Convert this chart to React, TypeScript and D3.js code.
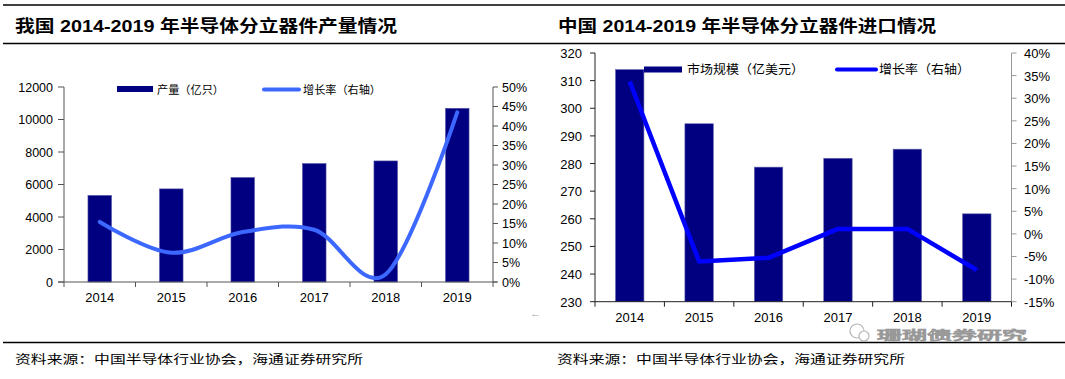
import React from "react";
import * as d3 from "d3";

const years = ["2014", "2015", "2016", "2017", "2018", "2019"];
const output = [5330, 5730, 6430, 7290, 7450, 10690];
const outputGrowth = [0.154, 0.075, 0.128, 0.134, 0.02, 0.435];
const imports = [314.0, 294.4, 278.7, 281.9, 285.2, 261.8];
const importGrowth = [0.337, -0.061, -0.053, 0.011, 0.011, -0.08];
const leftTicksL = [0, 2000, 4000, 6000, 8000, 10000, 12000];
const rightTicksL = [0, 0.05, 0.1, 0.15, 0.2, 0.25, 0.3, 0.35, 0.4, 0.45, 0.5];
const leftTicksR = [230, 240, 250, 260, 270, 280, 290, 300, 310, 320];
const rightTicksR = [-0.15, -0.1, -0.05, 0, 0.05, 0.1, 0.15, 0.2, 0.25, 0.3, 0.35, 0.4];

const titleL = "我国 2014-2019 年半导体分立器件产量情况";
const titleR = "中国 2014-2019 年半导体分立器件进口情况";
const source = "资料来源：中国半导体行业协会，海通证券研究所";
const legendL = ["产量（亿只）", "增长率（右轴）"];
const legendR = ["市场规模（亿美元）", "增长率（右轴）"];

const NUM = "'Liberation Sans', Arial, sans-serif";
const CJK = "'Noto Sans CJK SC', sans-serif";
const NAVY = "#000080";

function pct(v: number) {
  return `${Math.round(v * 100)}%`;
}

function LeftChart() {
  const x0 = 64, x1 = 493, yT = 87, yB = 282;
  const x = d3.scaleBand<string>().domain(years).range([x0, x1]);
  const yL = d3.scaleLinear().domain([0, 12000]).range([yB, yT]);
  const yR = d3.scaleLinear().domain([0, 0.5]).range([yB, yT]);
  const bw = x.bandwidth() * 0.33;
  const line = d3
    .line<number>()
    .x((_, i) => (x(years[i]) as number) + x.bandwidth() / 2)
    .y((d) => yR(d))
    .curve(d3.curveCatmullRom.alpha(0));
  const axisC = "#555";
  const bounds = years.map((y) => x(y) as number).concat([x1]);
  return (
    <g>
      {output.map((v, i) => (
        <rect
          key={i}
          x={(x(years[i]) as number) + (x.bandwidth() - bw) / 2}
          y={yL(v)}
          width={bw}
          height={yB - yL(v)}
          fill={NAVY}
          stroke="#5a5aa8"
          strokeWidth={0.6}
        />
      ))}
      <path d={line(outputGrowth) || ""} fill="none" stroke="#3d68ff" strokeWidth={4} strokeLinecap="round" />
      <line x1={x0} x2={x0} y1={yT} y2={yB} stroke={axisC} />
      <line x1={x1} x2={x1} y1={yT} y2={yB} stroke={axisC} />
      <line x1={x0 - 6} x2={x1 + 4} y1={yB} y2={yB} stroke={axisC} />
      {leftTicksL.map((t) => (
        <g key={t}>
          <line x1={x0 - 6} x2={x0} y1={yL(t)} y2={yL(t)} stroke={axisC} />
          <text x={53} y={yL(t) + 4.5} textAnchor="end" fontFamily={NUM} fontSize={12.5} fill="#000">
            {t}
          </text>
        </g>
      ))}
      {rightTicksL.map((t) => (
        <g key={t}>
          <line x1={x1} x2={x1 + 5} y1={yR(t)} y2={yR(t)} stroke={axisC} />
          <text x={502} y={yR(t) + 4.5} fontFamily={NUM} fontSize={12.5} fill="#000">
            {pct(t)}
          </text>
        </g>
      ))}
      {bounds.map((b, i) => (
        <line key={i} x1={b} x2={b} y1={yB} y2={yB + 5} stroke={axisC} />
      ))}
      {years.map((yv) => (
        <text
          key={yv}
          x={(x(yv) as number) + x.bandwidth() / 2}
          y={301.5}
          textAnchor="middle"
          fontFamily={NUM}
          fontSize={13}
          fill="#000"
        >
          {yv}
        </text>
      ))}
      <rect x={117} y={86} width={36} height={6} fill={NAVY} />
      <text x={157} y={93.5} fontFamily={CJK} fontSize={11} textLength={67} lengthAdjust="spacingAndGlyphs">
        {legendL[0]}
      </text>
      <line x1={264} x2={299} y1={89.5} y2={89.5} stroke="#3d68ff" strokeWidth={4} strokeLinecap="round" />
      <text x={303} y={93.5} fontFamily={CJK} fontSize={11} textLength={78} lengthAdjust="spacingAndGlyphs">
        {legendL[1]}
      </text>
    </g>
  );
}

function RightChart() {
  const x0 = 595, x1 = 1011.5, yT = 53, yB = 301.7;
  const x = d3.scaleBand<string>().domain(years).range([x0, x1]);
  const yL = d3.scaleLinear().domain([230, 320]).range([yB, yT]);
  const yR = d3.scaleLinear().domain([-0.15, 0.4]).range([yB, yT]);
  const bw = x.bandwidth() * 0.41;
  const line = d3
    .line<number>()
    .x((_, i) => (x(years[i]) as number) + x.bandwidth() / 2)
    .y((d) => yR(d));
  const bounds = years.map((y) => x(y) as number).concat([x1]);
  return (
    <g>
      {imports.map((v, i) => (
        <rect
          key={i}
          x={(x(years[i]) as number) + (x.bandwidth() - bw) / 2}
          y={yL(v)}
          width={bw}
          height={yB - yL(v)}
          fill={NAVY}
          stroke="#6a6ab0"
          strokeWidth={0.6}
        />
      ))}
      <path d={line(importGrowth) || ""} fill="none" stroke="#0000ff" strokeWidth={4.5} strokeLinejoin="round" />
      <line x1={x0} x2={x0} y1={yT} y2={yB} stroke="#222" />
      <line x1={x1} x2={x1} y1={yT} y2={yB} stroke="#999" />
      <line x1={x0} x2={x1} y1={yB} y2={yB} stroke="#222" />
      {leftTicksR.map((t) => (
        <g key={t}>
          <line x1={x0 - 5} x2={x0} y1={yL(t)} y2={yL(t)} stroke="#222" />
          <text x={582} y={yL(t) + 5} textAnchor="end" fontFamily={NUM} fontSize={13} fill="#000">
            {t}
          </text>
        </g>
      ))}
      {rightTicksR.map((t, i) => (
        <g key={i}>
          <line x1={x1} x2={x1 + 5} y1={yR(t)} y2={yR(t)} stroke="#999" />
          <text x={1024} y={yR(t) + 5} fontFamily={NUM} fontSize={13} fill="#000">
            {pct(t)}
          </text>
        </g>
      ))}
      {bounds.map((b, i) => (
        <line key={i} x1={b} x2={b} y1={yB} y2={yB + 5} stroke="#222" />
      ))}
      {years.map((yv) => (
        <text
          key={yv}
          x={(x(yv) as number) + x.bandwidth() / 2}
          y={322}
          textAnchor="middle"
          fontFamily={NUM}
          fontSize={13}
          fill="#000"
        >
          {yv}
        </text>
      ))}
      <rect x={644} y={66.5} width={38} height={6} fill={NAVY} />
      <text x={687} y={74} fontFamily={CJK} fontSize={12.5} textLength={117} lengthAdjust="spacingAndGlyphs">
        {legendR[0]}
      </text>
      <line x1={837} x2={876} y1={69.5} y2={69.5} stroke="#0000ff" strokeWidth={4} strokeLinecap="round" />
      <text x={879} y={74} fontFamily={CJK} fontSize={12.5} textLength={91} lengthAdjust="spacingAndGlyphs">
        {legendR[1]}
      </text>
      <g opacity={0.85}>
        <circle cx={857} cy={331} r={7} fill="none" stroke="#aaa" strokeWidth={1.2} />
        <circle cx={864} cy={336} r={5} fill="#fff" stroke="#aaa" strokeWidth={1.2} />
        <text x={877} y={339.5} fontFamily={CJK} fontSize={12} fill="#fff" stroke="#888" strokeWidth={0.9} textLength={150} lengthAdjust="spacingAndGlyphs">
          珊瑚债券研究
        </text>
      </g>
    </g>
  );
}

export default function App() {
  return (
    <svg
      width={1065}
      height={379}
      style={{ position: "absolute", left: 0, top: 0, background: "#fff" }}
    >
      <rect x={0} y={0} width={1065} height={379} fill="#fff" />
      <line x1={3} x2={1065} y1={5} y2={5} stroke="#000" strokeWidth={1.3} />
      <line x1={3} x2={1065} y1={43.5} y2={43.5} stroke="#000" strokeWidth={1.3} />
      <line x1={3} x2={1065} y1={342.5} y2={342.5} stroke="#000" strokeWidth={1.3} />
      <text x={15} y={32} fontFamily={`${NUM}, ${CJK}`} fontWeight="bold" fontSize={16.5} textLength={382} lengthAdjust="spacingAndGlyphs">
        {titleL}
      </text>
      <text x={558} y={32} fontFamily={`${NUM}, ${CJK}`} fontWeight="bold" fontSize={16.5} textLength={378} lengthAdjust="spacingAndGlyphs">
        {titleR}
      </text>
      <text x={15} y={364} fontFamily={CJK} fontSize={12} textLength={348} lengthAdjust="spacingAndGlyphs">
        {source}
      </text>
      <text x={557} y={364} fontFamily={CJK} fontSize={12} textLength={348} lengthAdjust="spacingAndGlyphs">
        {source}
      </text>
      <text x={530} y={317} fontFamily={NUM} fontSize={11} fill="#aaa">←</text>
      <LeftChart />
      <RightChart />
    </svg>
  );
}
